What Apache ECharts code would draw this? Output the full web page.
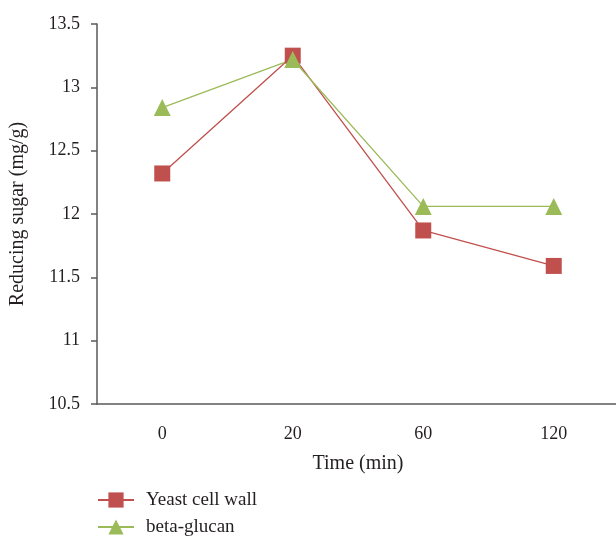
<!DOCTYPE html>
<html>
<head>
<meta charset="utf-8">
<script src="https://cdn.jsdelivr.net/npm/echarts@6/dist/echarts.min.js"></script>
<style>
  html, body { margin: 0; padding: 0; background: #fff; }
  #chart { width: 616px; height: 536px; }
</style>
</head>
<body>
<div id="chart"></div>
<script>
  // Datos
  const times = ['0', '20', '60', '120'];
  const yeastCellWall = [12.32, 13.25, 11.87, 11.59];
  const betaGlucan = [12.84, 13.22, 12.06, 12.06];

  const font = 'Liberation Serif';
  const axisColor = '#595959';
  const textColor = '#231f20';

  // una leyenda por fila para que queden apiladas
  function legendRow(name, top) {
      return {
          left: 97,
          top: top,
          padding: 0,
          itemWidth: 36,
          itemHeight: 19,
          textStyle: { fontFamily: font, fontSize: 19, lineHeight: 20, color: textColor, padding: [0, 0, 0, 7] },
          data: [name]
      };
  }

  const chart = echarts.init(document.getElementById('chart'));
  const option = {
      textStyle: { fontFamily: font },
      grid: { left: 97, top: 24, width: 522, height: 380, outerBoundsMode: 'none', containLabel: false },
      legend: [legendRow('Yeast cell wall', 490), legendRow('beta-glucan', 517)],
      xAxis: {
          type: 'category',
          data: times,
          boundaryGap: true,
          name: 'Time (min)',
          nameLocation: 'middle',
          nameGap: 50,
          nameTextStyle: { fontFamily: font, fontSize: 20, color: textColor },
          axisLine: { lineStyle: { color: axisColor, width: 1.5 } },
          axisTick: { alignWithLabel: true, length: 6, lineStyle: { color: axisColor, width: 1.5 } },
          axisLabel: { fontFamily: font, fontSize: 18, color: textColor, margin: 21 }
      },
      yAxis: {
          type: 'value',
          min: 10.5,
          max: 13.5,
          interval: 0.5,
          name: 'Reducing sugar (mg/g)',
          nameLocation: 'middle',
          nameGap: 69,
          nameTextStyle: { fontFamily: font, fontSize: 20, color: textColor },
          axisLine: { show: true, lineStyle: { color: axisColor, width: 1.5 } },
          axisTick: { show: true, length: 6, lineStyle: { color: axisColor, width: 1.5 } },
          axisLabel: { fontFamily: font, fontSize: 18, color: textColor, margin: 17 },
          splitLine: { show: false }
      },
      series: [
          {
              name: 'Yeast cell wall',
              type: 'line',
              data: yeastCellWall,
              symbol: 'rect',
              symbolSize: 16,
              color: '#C0504D',
              lineStyle: { width: 1.3, color: '#C0504D' },
              itemStyle: { color: '#C0504D' }
          },
          {
              name: 'beta-glucan',
              type: 'line',
              data: betaGlucan,
              symbol: 'triangle',
              symbolSize: 17,
              color: '#9BBB59',
              lineStyle: { width: 1.3, color: '#9BBB59' },
              itemStyle: { color: '#9BBB59' }
          }
      ]
  };

  chart.setOption(option);
</script>
</body>
</html>
